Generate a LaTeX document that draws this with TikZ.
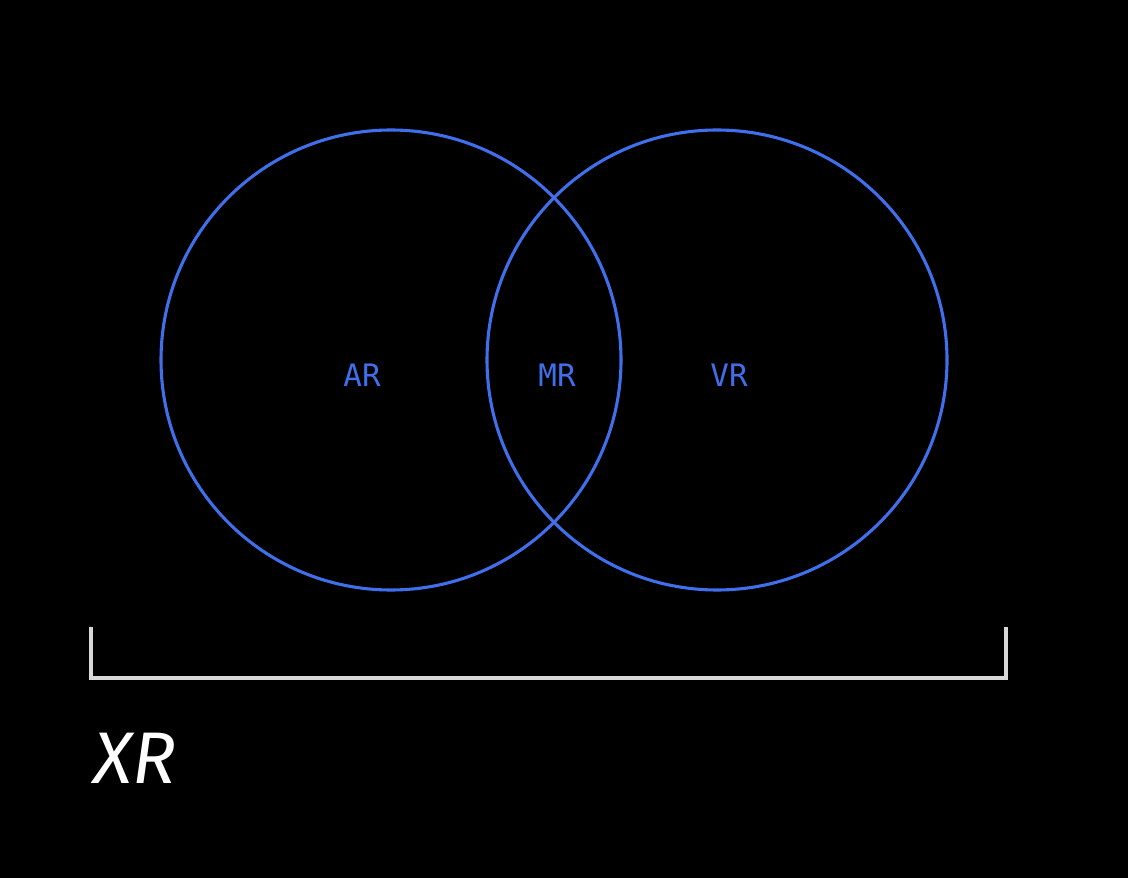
\documentclass[tikz,border=0pt]{standalone}
\usepackage{fontspec}
\setmainfont{Fira Sans}
\newfontfamily\labfont{DejaVu Sans Mono}
\definecolor{vblue}{HTML}{3F6FEA}
\definecolor{brk}{HTML}{D8D8D8}
\begin{document}
\begin{tikzpicture}[x=0.025cm,y=-0.025cm,
  ring/.style={draw=vblue,line width=2.2pt},
  lab/.style={text=vblue,font=\labfont\fontsize{22}{26}\selectfont},
  brack/.style={draw=brk,line width=2.2pt}]
\fill[black] (0,0) rectangle (1128,878);
\useasboundingbox (0,0) rectangle (1128,878);
\draw[ring] (391,360) circle (230);
\draw[ring] (717,360) circle (230);
\node[lab] (ar) at (362,375) {AR};
\node[lab] (mr) at (557,375) {MR};
\node[lab] (vr) at (729,375) {VR};
\coordinate (b1) at (91,627);
\coordinate (b2) at (1006,627);
\draw[brack] (b1) -- (91,678) -- (1006,678) -- (b2);
\node[text=white,font=\itshape\fontsize{52}{60}\selectfont] (xr) at (135,758) {XR};
\end{tikzpicture}
\end{document}
